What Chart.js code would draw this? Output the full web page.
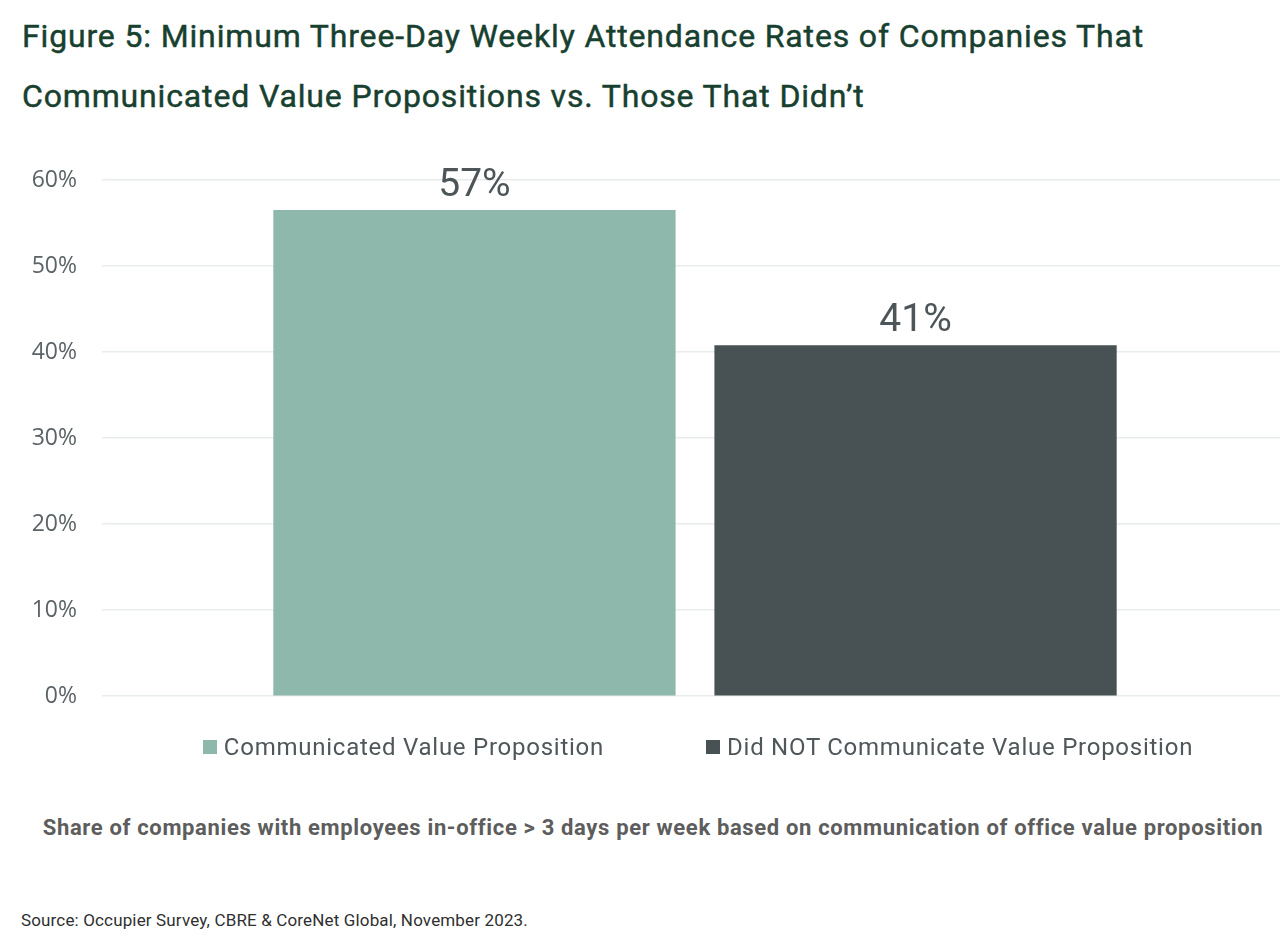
<!DOCTYPE html>
<html>
<head>
<meta charset="utf-8">
<title>Figure 5</title>
<script src="https://cdn.jsdelivr.net/npm/chart.js@4.4.1/dist/chart.umd.min.js"></script>
<style>
  body { margin: 0; width: 1280px; height: 947px; background: #fff; position: relative; overflow: hidden; font-family: Roboto, sans-serif; }
  .title { position: absolute; left: 22px; color: #17402f; font-size: 32px; font-weight: 400; letter-spacing: 0.85px; -webkit-text-stroke: 0.45px #17402f; white-space: nowrap; line-height: 1.172; }
  #t1 { top: 18px; }
  #t2 { top: 78px; }
  #chartbox { position: absolute; left: 0; top: 130px; width: 1280px; height: 605px; }
  #legend { position: absolute; top: 733px; left: 0; width: 1280px; display: flex; justify-content: center; padding-left: 116px; box-sizing: border-box; gap: 102px; color: #4f575a; font-size: 24px; letter-spacing: 0.75px; line-height: 28px; white-space: nowrap; }
  #legend span.sw { display: inline-block; width: 14px; height: 14px; margin-right: 7px; vertical-align: 1px; }
  #sub { position: absolute; top: 815px; left: 0; width: 1280px; padding-left: 26px; box-sizing: border-box; text-align: center; font-weight: bold; font-size: 22px; letter-spacing: 0.65px; line-height: 26px; color: #5d5d5d; white-space: nowrap; }
  #src { position: absolute; top: 910px; left: 21px; font-size: 17px; letter-spacing: 0.15px; color: #2f2f2f; white-space: nowrap; }
</style>
</head>
<body>
<div class="title" id="t1">Figure 5: Minimum Three-Day Weekly Attendance Rates of Companies That</div>
<div class="title" id="t2">Communicated Value Propositions vs. Those That Didn’t</div>
<div id="chartbox"><canvas id="chartcanvas"></canvas></div>
<div id="legend"></div>
<div id="sub">Share of companies with employees in-office &gt; 3 days per week based on communication of office value proposition</div>
<div id="src">Source: Occupier Survey, CBRE &amp; CoreNet Global, November 2023.</div>

<script>
// data
const categories = [''];
const seriesNames = ['Communicated Value Proposition', 'Did NOT Communicate Value Proposition'];
const seriesValues = [56.5, 40.8];
const seriesColors = ['#8eb8ab', '#485254'];
const yTicks = [0, 10, 20, 30, 40, 50, 60];

// bar value labels on top
const barLabels = {
    id: 'barLabels',
    afterDatasetsDraw(chart) {
        const c = chart.ctx;
        c.save();
        c.font = '39px Roboto';
        c.fillStyle = '#4d5558';
        c.textAlign = 'center';
        c.textBaseline = 'alphabetic';
        chart.data.datasets.forEach((ds, i) => {
            chart.getDatasetMeta(i).data.forEach((bar, j) => {
                c.fillText(Math.round(ds.data[j]) + '%', bar.x, bar.y - 14);
            });
        });
        c.restore();
    }
};

const ctx = document.getElementById('chartcanvas');
var chart = new Chart(ctx, {
    type: 'bar',
    data: {
        labels: categories,
        datasets: seriesNames.map((name, i) => ({
            label: name,
            data: [seriesValues[i]],
            backgroundColor: seriesColors[i],
            borderWidth: 0,
            categoryPercentage: 0.754,
            barPercentage: 0.912
        }))
    },
    options: {
        responsive: true,
        maintainAspectRatio: false,
        animation: false,
        layout: { padding: { top: 50, bottom: 15, left: 0, right: 0 } },
        plugins: {
            legend: { display: false },
            tooltip: { enabled: false }
        },
        scales: {
            x: { display: false },
            y: {
                min: 0,
                max: 60,
                afterBuildTicks(scale) { scale.ticks = yTicks.map(v => ({ value: v })); },
                afterFit(scale) { scale.width = 110; },
                border: { display: false },
                grid: { color: '#e8ecea', lineWidth: 1.5, drawTicks: true, tickLength: 8, tickColor: '#e8ecea' },
                ticks: {
                    padding: 25,
                    color: '#5b6366',
                    font: { family: 'Open Sans', size: 23 },
                    callback: v => v + '%'
                }
            }
        }
    },
    plugins: [barLabels]
});

// legend built from the same arrays
const lg = document.getElementById('legend');
seriesNames.forEach((name, i) => {
    const d = document.createElement('div');
    d.innerHTML = '<span class="sw" style="background:' + seriesColors[i] + '"></span>' + name;
    lg.appendChild(d);
});
</script>
</body>
</html>
